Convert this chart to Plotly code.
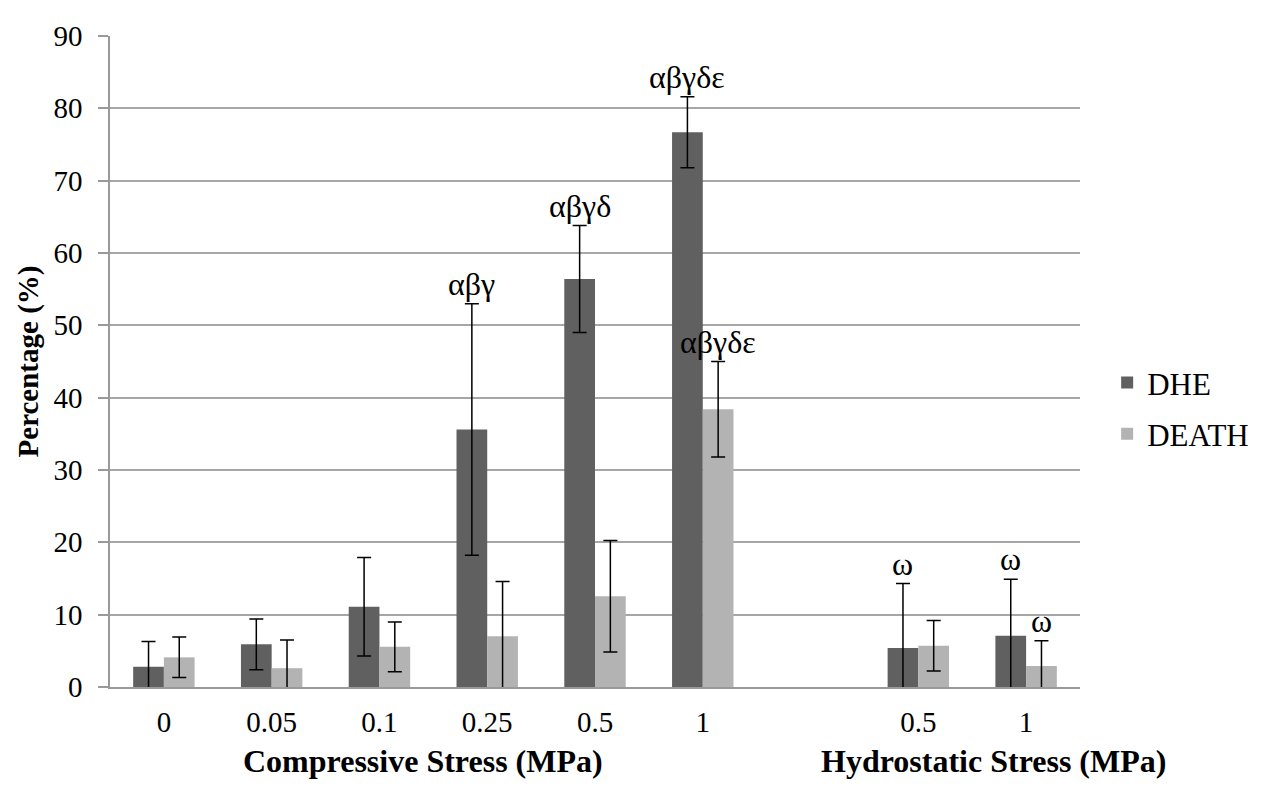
import plotly.graph_objects as go

# ---- data ----
comp_labels = ["0", "0.05", "0.1", "0.25", "0.5", "1"]
hydro_labels = ["0.5", "1"]

dhe_comp = [2.8, 5.9, 11.1, 35.6, 56.4, 76.7]
dhe_comp_err = [3.5, 3.5, 6.8, 17.4, 7.4, 4.9]
death_comp = [4.1, 2.6, 5.55, 7.0, 12.55, 38.4]
death_comp_err = [2.8, 3.9, 3.45, 7.6, 7.7, 6.6]

dhe_hydro = [5.4, 7.1]
dhe_hydro_err = [8.9, 7.8]
death_hydro = [5.7, 2.9]
death_hydro_err = [3.5, 3.5]

sig_dhe = ["", "", "", "αβγ", "αβγδ", "αβγδε", "ω", "ω"]
sig_death = ["", "", "", "", "", "αβγδε", "", "ω"]

group_titles = ["Compressive Stress (MPa)", "Hydrostatic Stress (MPa)"]

# ---- positions (one blank slot between the groups) ----
pos = list(range(len(comp_labels))) + [len(comp_labels) + 1 + i for i in range(len(hydro_labels))]
ticktext = comp_labels + hydro_labels

dhe = dhe_comp + dhe_hydro
dhe_err = dhe_comp_err + dhe_hydro_err
death = death_comp + death_hydro
death_err = death_comp_err + death_hydro_err

FONT = "Liberation Serif, Times New Roman, serif"
bargap = 0.43
off = (1 - bargap) / 4

err_style = dict(type="data", symmetric=True, color="black", thickness=1.5, width=7)

fig = go.Figure()
fig.add_trace(go.Bar(
    x=pos, y=dhe, name="DHE", marker=dict(color="#606060", line=dict(width=0)),
    error_y=dict(array=dhe_err, **err_style), legendgroup="a"))
fig.add_trace(go.Bar(
    x=pos, y=death, name="DEATH", marker=dict(color="#b3b3b3", line=dict(width=0)),
    error_y=dict(array=death_err, **err_style), legendgroup="b"))

annotations = []
for p, v, e, s in zip(pos, dhe, dhe_err, sig_dhe):
    if s:
        annotations.append(dict(x=p - off, y=v + e, text=s, showarrow=False,
                                yanchor="bottom", xanchor="center",
                                font=dict(family=FONT, size=32, color="black")))
for p, v, e, s in zip(pos, death, death_err, sig_death):
    if s:
        annotations.append(dict(x=p + off, y=v + e, text=s, showarrow=False,
                                yanchor="bottom", xanchor="center",
                                font=dict(family=FONT, size=32, color="black")))

comp_center = (pos[0] + pos[len(comp_labels) - 1]) / 2
hydro_center = (pos[len(comp_labels)] + pos[-1]) / 2
for xc, t, dx in [(comp_center, group_titles[0], -10), (hydro_center, group_titles[1], 21)]:
    annotations.append(dict(x=xc, xref="x", y=-0.1136, yref="paper", text="<b>" + t + "</b>",
                            showarrow=False, xanchor="center", yanchor="middle", xshift=dx,
                            font=dict(family=FONT, size=32, color="black")))

fig.update_layout(
    width=1258, height=779,
    margin=dict(l=102, r=180, t=19, b=100),
    paper_bgcolor="white", plot_bgcolor="white",
    barmode="group", bargap=bargap, bargroupgap=0,
    font=dict(family=FONT, color="black"),
    annotations=annotations,
    legend=dict(x=1.028, xanchor="left", y=0.428, yanchor="middle",
                font=dict(family=FONT, size=31, color="black"),
                tracegroupgap=8, traceorder="grouped", bgcolor="rgba(0,0,0,0)"),
    xaxis=dict(range=[-0.5, pos[-1] + 0.5], tickmode="array", tickvals=pos, ticktext=ticktext,
               showgrid=False, zeroline=False, showline=True, linecolor="#999999", linewidth=1.5,
               ticks="", ticklabelstandoff=8,
               tickfont=dict(family=FONT, size=29, color="black")),
    yaxis=dict(range=[0, 90], dtick=10, tick0=0, showgrid=True, gridcolor="#a6a6a6", gridwidth=1.5,
               zeroline=False, showline=True, linecolor="#999999", linewidth=1.5,
               ticks="outside", ticklen=10, tickcolor="#999999", tickwidth=1.5,
               ticklabelstandoff=10,
               tickfont=dict(family=FONT, size=29, color="black")),
)
fig.update_yaxes(title=dict(text="<b>Percentage (%)</b>", standoff=6,
                            font=dict(family=FONT, size=29, color="black")))

fig.write_html("out.html")
